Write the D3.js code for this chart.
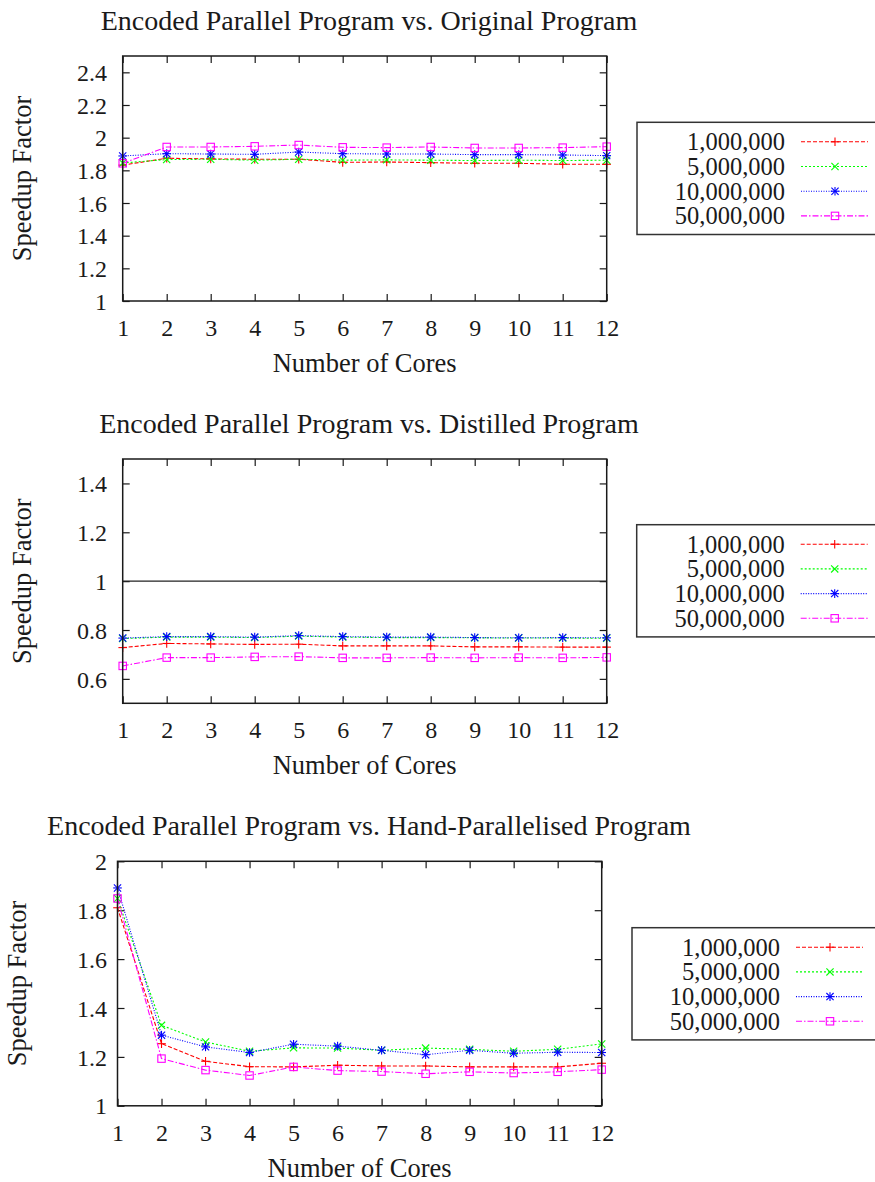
<!DOCTYPE html>
<html>
<head>
<meta charset="utf-8">
<script src="https://cdn.jsdelivr.net/npm/d3@7"></script>
<style>
  body { margin: 0; background: #fff; }
  svg { display: block; }
</style>
</head>
<body>
<svg id="chart" width="875" height="1182"></svg>
<script>
// ---- data -------------------------------------------------------------
const cores = [1, 2, 3, 4, 5, 6, 7, 8, 9, 10, 11, 12];
const inputSizes = ["1,000,000", "5,000,000", "10,000,000", "50,000,000"];

// Encoded parallel program vs. original program
const original1M  = [1.832, 1.874, 1.870, 1.868, 1.868, 1.849, 1.851, 1.847, 1.843, 1.843, 1.837, 1.837];
const original5M  = [1.845, 1.866, 1.868, 1.862, 1.868, 1.862, 1.864, 1.862, 1.860, 1.862, 1.860, 1.862];
const original10M = [1.888, 1.902, 1.900, 1.898, 1.912, 1.902, 1.900, 1.900, 1.896, 1.896, 1.894, 1.890];
const original50M = [1.843, 1.943, 1.943, 1.947, 1.955, 1.941, 1.939, 1.943, 1.937, 1.937, 1.939, 1.945];

// Encoded parallel program vs. distilled program
const distilled1M  = [0.728, 0.745, 0.743, 0.741, 0.742, 0.735, 0.735, 0.735, 0.731, 0.731, 0.730, 0.730];
const distilled5M  = [0.765, 0.771, 0.771, 0.769, 0.775, 0.771, 0.769, 0.769, 0.768, 0.767, 0.767, 0.766];
const distilled10M = [0.767, 0.773, 0.773, 0.771, 0.777, 0.773, 0.771, 0.771, 0.769, 0.768, 0.769, 0.768];
const distilled50M = [0.653, 0.687, 0.687, 0.690, 0.691, 0.686, 0.686, 0.687, 0.686, 0.687, 0.686, 0.688];
const distilledBreakEven = [1];

// Encoded parallel program vs. hand-parallelised program
const hand1M  = [1.810, 1.254, 1.182, 1.160, 1.159, 1.166, 1.163, 1.163, 1.159, 1.159, 1.159, 1.174];
const hand5M  = [1.848, 1.329, 1.261, 1.223, 1.237, 1.236, 1.227, 1.236, 1.231, 1.223, 1.231, 1.253];
const hand10M = [1.891, 1.289, 1.241, 1.218, 1.252, 1.244, 1.227, 1.209, 1.227, 1.215, 1.219, 1.218];
const hand50M = [1.848, 1.193, 1.146, 1.124, 1.159, 1.144, 1.140, 1.131, 1.139, 1.134, 1.139, 1.148];

// tick values
const ticksOriginal  = [1, 1.2, 1.4, 1.6, 1.8, 2, 2.2, 2.4];
const ticksDistilled = [0.6, 0.8, 1, 1.2, 1.4];
const ticksHand      = [1, 1.2, 1.4, 1.6, 1.8, 2];

// ---- styles -----------------------------------------------------------
const serifFont = "'Liberation Serif', 'DejaVu Serif', serif";
const seriesStyles = [
  { color: "#ff0000", dash: "4,2",        marker: "plus" },
  { color: "#00ff00", dash: "2,2",        marker: "cross" },
  { color: "#0000ff", dash: "1,1.5",      marker: "star" },
  { color: "#ff00ff", dash: "6,2,1.5,2",  marker: "square" }
];

const panels = [
  { title: "Encoded Parallel Program vs. Original Program",
    series: [original1M, original5M, original10M, original50M],
    yDomain: [1, 2.5], yTicks: ticksOriginal, refLines: [],
    left: 122.7, right: 606.7, top: 56, bottom: 301,
    legendX: 637, legendY: 122.3 },
  { title: "Encoded Parallel Program vs. Distilled Program",
    series: [distilled1M, distilled5M, distilled10M, distilled50M],
    yDomain: [0.5, 1.5], yTicks: ticksDistilled, refLines: distilledBreakEven,
    left: 122.7, right: 606.7, top: 459, bottom: 703.3,
    legendX: 636.7, legendY: 524.7 },
  { title: "Encoded Parallel Program vs. Hand-Parallelised Program",
    series: [hand1M, hand5M, hand10M, hand50M],
    yDomain: [1, 2], yTicks: ticksHand, refLines: [],
    left: 117.5, right: 601.7, top: 861.3, bottom: 1105.8,
    legendX: 632, legendY: 927.7 }
];

const svg = d3.select("#chart");
const ink = "#1a1a1a";

function label(sel, size) {
  return sel.style("font-family", serifFont).style("font-size", size + "px").style("fill", ink);
}

function drawMarker(g, type, cx, cy, color) {
  const m = g.append("g").attr("transform", `translate(${cx},${cy})`)
    .attr("stroke", color).attr("stroke-width", 1.1).attr("fill", "none");
  const p = 4.3, c = 3.6;
  if (type === "plus" || type === "star") {
    m.append("line").attr("x1", -p).attr("x2", p).attr("y1", 0).attr("y2", 0);
    m.append("line").attr("x1", 0).attr("x2", 0).attr("y1", -p).attr("y2", p);
  }
  if (type === "cross" || type === "star") {
    m.append("line").attr("x1", -c).attr("x2", c).attr("y1", -c).attr("y2", c);
    m.append("line").attr("x1", -c).attr("x2", c).attr("y1", c).attr("y2", -c);
  }
  if (type === "square") {
    m.append("rect").attr("x", -3.7).attr("y", -3.7).attr("width", 7.4).attr("height", 7.4);
  }
}

panels.forEach(pn => {
  const g = svg.append("g");
  const x = d3.scaleLinear().domain([1, 12]).range([pn.left, pn.right]);
  const y = d3.scaleLinear().domain(pn.yDomain).range([pn.bottom, pn.top]);
  const fmt = d3.format("~g");

  // inward ticks on all four sides
  const axL = g.append("g").attr("transform", `translate(${pn.left},0)`)
    .call(d3.axisLeft(y).tickValues(pn.yTicks).tickSizeInner(-7).tickSizeOuter(0)
      .tickPadding(pn.left - 107).tickFormat(fmt));
  const axR = g.append("g").attr("transform", `translate(${pn.right},0)`)
    .call(d3.axisRight(y).tickValues(pn.yTicks).tickSizeInner(-7).tickSizeOuter(0).tickFormat(""));
  const axB = g.append("g").attr("transform", `translate(0,${pn.bottom})`)
    .call(d3.axisBottom(x).tickValues(cores).tickSizeInner(-7).tickSizeOuter(0).tickFormat(d3.format("d")));
  const axT = g.append("g").attr("transform", `translate(0,${pn.top})`)
    .call(d3.axisTop(x).tickValues(cores).tickSizeInner(-7).tickSizeOuter(0).tickFormat(""));

  [axL, axR, axB, axT].forEach(a => {
    a.select(".domain").remove();
    a.selectAll(".tick line").attr("stroke", ink).attr("stroke-width", 1.2);
    a.attr("font-family", null).attr("font-size", null);
  });
  label(axL.selectAll("text"), 24).attr("dy", "0.34em");
  label(axB.selectAll("text"), 24).attr("y", 27).attr("dy", "0.34em");

  // reference line(s)
  pn.refLines.forEach(v => {
    g.append("line").attr("x1", pn.left).attr("x2", pn.right)
      .attr("y1", y(v)).attr("y2", y(v))
      .attr("stroke", "#222").attr("stroke-width", 1.1);
  });

  // series
  const line = d3.line().x((d, i) => x(cores[i])).y(d => y(d));
  pn.series.forEach((vals, si) => {
    const st = seriesStyles[si];
    g.append("path").datum(vals).attr("d", line)
      .attr("fill", "none").attr("stroke", st.color).attr("stroke-width", 1.1)
      .attr("stroke-dasharray", st.dash);
    vals.forEach((v, i) => drawMarker(g, st.marker, x(cores[i]), y(v), st.color));
  });

  // frame
  g.append("rect").attr("x", pn.left).attr("y", pn.top)
    .attr("width", pn.right - pn.left).attr("height", pn.bottom - pn.top)
    .attr("fill", "none").attr("stroke", ink).attr("stroke-width", 1.5);

  // labels
  label(g.append("text"), 28).attr("x", 369).attr("y", pn.top - 36).attr("dy", "0.34em")
    .attr("text-anchor", "middle").text(pn.title);
  label(g.append("text"), 26.5).attr("x", (pn.left + pn.right) / 2).attr("y", pn.bottom + 62)
    .attr("dy", "0.34em").attr("text-anchor", "middle").text("Number of Cores");
  label(g.append("text"), 26.5)
    .attr("transform", `translate(${pn.left - 101},${(pn.top + pn.bottom) / 2}) rotate(-90)`)
    .attr("dy", "0.34em").attr("text-anchor", "middle").text("Speedup Factor");

  // legend
  const lg = g.append("g").attr("transform", `translate(${pn.legendX},${pn.legendY})`);
  lg.append("rect").attr("x", 0).attr("y", 0).attr("width", 300).attr("height", 112.2)
    .attr("fill", "#fff").attr("stroke", "#333").attr("stroke-width", 1.5);
  inputSizes.forEach((name, i) => {
    const st = seriesStyles[i];
    const cy = 19.5 + i * 24.7;
    label(lg.append("text"), 24.5).attr("x", 148).attr("y", cy).attr("dy", "0.34em")
      .attr("text-anchor", "end").text(name);
    lg.append("line").attr("x1", 164).attr("x2", 231).attr("y1", cy).attr("y2", cy)
      .attr("stroke", st.color).attr("stroke-width", 1.1).attr("stroke-dasharray", st.dash);
    drawMarker(lg, st.marker, 198, cy, st.color);
  });
});
</script>
</body>
</html>
